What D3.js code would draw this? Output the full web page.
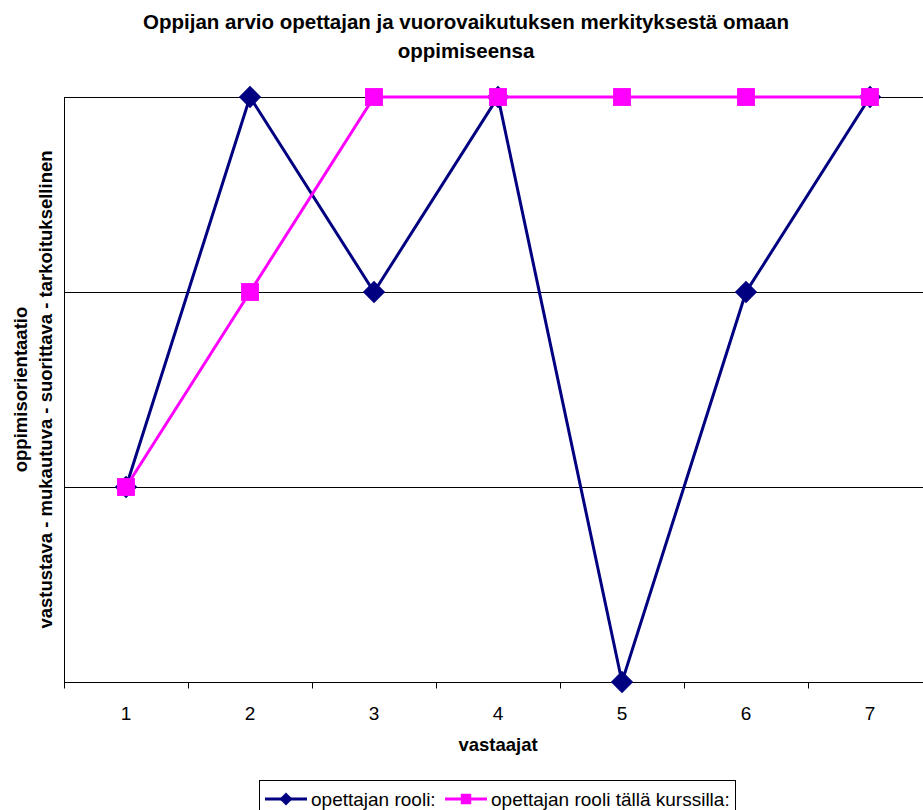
<!DOCTYPE html>
<html>
<head>
<meta charset="utf-8">
<script src="https://cdn.jsdelivr.net/npm/d3@7"></script>
<style>
  html, body { margin: 0; padding: 0; background: #fff; }
  svg { display: block; font-family: "Liberation Sans", Arial, sans-serif; }
</style>
</head>
<body>
<svg id="chart" width="923" height="810"></svg>
<script>
// Respondents on the x axis
const categories = ["1", "2", "3", "4", "5", "6", "7"];
// Learning orientation level: 0 = vastustava, 1 = mukautuva, 2 = suorittava, 3 = tarkoituksellinen
const opettajanRooli = [1, 3, 2, 3, 0, 2, 3];
const opettajanRooliKurssilla = [1, 2, 3, 3, 3, 3, 3];
const seriesNames = ["opettajan rooli:", "opettajan rooli tällä kurssilla:"];
const yLevels = [0, 1, 2, 3];
const titleLines = ["Oppijan arvio opettajan ja vuorovaikutuksen merkityksestä omaan", "oppimiseensa"];
const yTitleLines = ["oppimisorientaatio", "vastustava - mukautuva - suorittava - tarkoituksellinen"];
const xTitle = "vastaajat";

const svg = d3.select("#chart");
const plot = { left: 64, top: 97, width: 868, height: 585 };

const x = d3.scaleBand().domain(categories).range([plot.left, plot.left + plot.width]);
const y = d3.scaleLinear().domain([0, 3]).range([plot.top + plot.height, plot.top]);

// Title
svg.append("g").selectAll("text").data(titleLines).join("text")
  .attr("x", 466).attr("y", (d, i) => 29 + i * 29)
  .attr("text-anchor", "middle")
  .style("font-size", "20.5px").style("font-weight", "bold")
  .text(d => d);

// Horizontal gridlines
svg.append("g").selectAll("line").data(yLevels.filter(v => v > 0)).join("line")
  .attr("x1", plot.left).attr("x2", plot.left + plot.width)
  .attr("y1", d => Math.round(y(d)) + 0.5).attr("y2", d => Math.round(y(d)) + 0.5)
  .attr("stroke", "#000").attr("stroke-width", 1);

// Left axis line (no ticks)
svg.append("line")
  .attr("x1", plot.left + 0.5).attr("x2", plot.left + 0.5)
  .attr("y1", plot.top).attr("y2", plot.top + plot.height)
  .attr("stroke", "#000");

// Bottom axis with ticks between categories
const xAxis = svg.append("g")
  .attr("transform", `translate(0,${Math.round(plot.top + plot.height) + 0.5})`);
xAxis.append("line").attr("x1", plot.left).attr("x2", plot.left + plot.width).attr("stroke", "#000");
const tickPositions = categories.map(c => x(c)).concat([x(categories[categories.length - 1]) + x.bandwidth()]);
xAxis.selectAll("line.tick").data(tickPositions).join("line")
  .attr("class", "tick")
  .attr("x1", d => Math.round(d) + 0.5).attr("x2", d => Math.round(d) + 0.5)
  .attr("y1", 0).attr("y2", 6).attr("stroke", "#000");
xAxis.selectAll("text").data(categories).join("text")
  .attr("x", d => x(d) + x.bandwidth() / 2)
  .attr("y", 37)
  .attr("text-anchor", "middle")
  .style("font-size", "19px")
  .text(d => d);

// Axis titles
svg.append("text")
  .attr("x", plot.left + plot.width / 2).attr("y", 751)
  .attr("text-anchor", "middle")
  .style("font-size", "18.5px").style("font-weight", "bold")
  .text(xTitle);

svg.append("g").selectAll("text").data(yTitleLines).join("text")
  .attr("transform", (d, i) => `translate(${27 + i * 25},${plot.top + plot.height / 2}) rotate(-90)`)
  .attr("text-anchor", "middle")
  .style("font-size", "18.5px").style("font-weight", "bold")
  .text(d => d);

const cx = d => x(d) + x.bandwidth() / 2;
const line = d3.line().x(d => cx(d.c)).y(d => y(d.v));

const navy = "#000080", magenta = "#ff00ff";
const s1 = categories.map((c, i) => ({ c, v: opettajanRooli[i] }));
const s2 = categories.map((c, i) => ({ c, v: opettajanRooliKurssilla[i] }));

// Series 1: navy line with diamonds
svg.append("path").datum(s1).attr("d", line)
  .attr("fill", "none").attr("stroke", navy).attr("stroke-width", 3).attr("stroke-linejoin", "miter");
svg.append("g").selectAll("path").data(s1).join("path")
  .attr("transform", d => `translate(${cx(d.c)},${y(d.v)}) rotate(45)`)
  .attr("d", d3.symbol().type(d3.symbolSquare).size(250))
  .attr("fill", navy);

// Series 2: magenta line with squares
svg.append("path").datum(s2).attr("d", line)
  .attr("fill", "none").attr("stroke", magenta).attr("stroke-width", 3);
svg.append("g").selectAll("path").data(s2).join("path")
  .attr("transform", d => `translate(${cx(d.c)},${y(d.v)})`)
  .attr("d", d3.symbol().type(d3.symbolSquare).size(320))
  .attr("fill", magenta);

// Legend
const legend = svg.append("g");
legend.append("rect")
  .attr("x", 259.5).attr("y", 780.5).attr("width", 476).attr("height", 40)
  .attr("fill", "#fff").attr("stroke", "#000");
const legendItems = [
  { name: seriesNames[0], color: navy, x0: 265, shape: "diamond" },
  { name: seriesNames[1], color: magenta, x0: 445, shape: "square" }
];
legendItems.forEach(it => {
  const g = legend.append("g");
  g.append("line").attr("x1", it.x0).attr("x2", it.x0 + 42)
    .attr("y1", 799).attr("y2", 799).attr("stroke", it.color).attr("stroke-width", 3);
  if (it.shape === "diamond") {
    g.append("path").attr("transform", `translate(${it.x0 + 21},799) rotate(45)`)
      .attr("d", d3.symbol().type(d3.symbolSquare).size(85)).attr("fill", it.color);
  } else {
    g.append("path").attr("transform", `translate(${it.x0 + 21},799)`)
      .attr("d", d3.symbol().type(d3.symbolSquare).size(110)).attr("fill", it.color);
  }
  g.append("text").attr("x", it.x0 + 46).attr("y", 806)
    .style("font-size", "19px").text(it.name);
});
</script>
</body>
</html>
